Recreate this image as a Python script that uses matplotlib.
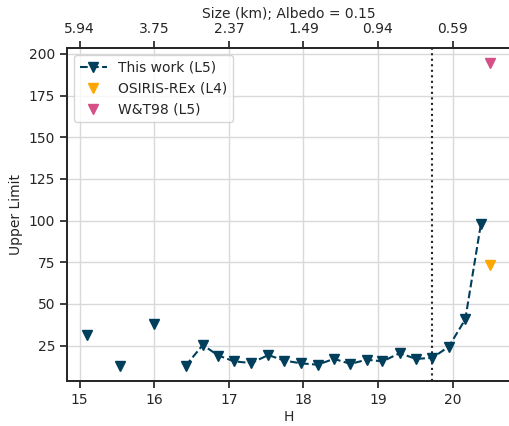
import numpy as np
import matplotlib.pyplot as plt

# Upper limits from this work (L5); NaN where no limit was obtained
h_mag = [15.10, 15.32, 15.54, 15.77, 15.99, 16.21, 16.42, 16.65, 16.86, 17.07,
         17.30, 17.53, 17.74, 17.97, 18.19, 18.41, 18.63, 18.85, 19.06, 19.29,
         19.51, 19.73, 19.95, 20.17, 20.38]
upper_limit = [31.5, np.nan, 12.8, np.nan, 38.0, np.nan, 12.8, 25.3, 19.0, 15.5,
               14.5, 19.3, 16.0, 14.3, 13.5, 17.0, 14.0, 16.5, 15.5, 20.4,
               17.0, 17.6, 24.4, 40.7, 98.0]

# Reference values
osiris_h = [20.50]
osiris_limit = [73.5]
wt98_h = [20.50]
wt98_limit = [194.5]

h_cut = 19.73

# Top axis: diameter labels at integer H
size_ticks = [15, 16, 17, 18, 19, 20]
size_labels = ["5.94", "3.75", "2.37", "1.49", "0.94", "0.59"]

plt.rcParams['font.size'] = 10
plt.rcParams['text.color'] = '#262626'
plt.rcParams['axes.labelcolor'] = '#262626'
plt.rcParams['xtick.color'] = '#262626'
plt.rcParams['ytick.color'] = '#262626'

fig = plt.figure(figsize=(5.09, 4.26), dpi=100)
ax = fig.add_axes([67 / 509, 1 - 381 / 426, 443 / 509, 333 / 426])

ax.plot(h_mag, upper_limit, 'v--', color='#003f5c', markersize=6.5,
        linewidth=1.5, label='This work (L5)', zorder=3)
ax.plot(osiris_h, osiris_limit, 'v', color='#ffa600', markersize=6.5,
        label='OSIRIS-REx (L4)', zorder=3)
ax.plot(wt98_h, wt98_limit, 'v', color='#d45087', markersize=6.5,
        label='W&T98 (L5)', zorder=3)
ax.axvline(h_cut, color='#222222', linestyle=':', linewidth=1.5)

ax.set_xlabel('H', labelpad=2)
ax.set_ylabel('Upper Limit')
ax.set_yticks([25, 50, 75, 100, 125, 150, 175, 200])
ax.grid(True, color='#d9d9d9', linewidth=1.0)
ax.set_axisbelow(True)
for side in ['left', 'bottom', 'top']:
    ax.spines[side].set_linewidth(1.25)
    ax.spines[side].set_color('#262626')
ax.spines['right'].set_visible(False)
ax.tick_params(length=5, width=1.25)

leg = ax.legend(loc='upper left', fancybox=True, framealpha=0.8,
                edgecolor='#cccccc', borderpad=0.4, handlelength=2.0)

ax2 = ax.twiny()
ax2.set_xlim(ax.get_xlim())
ax2.set_xticks(size_ticks)
ax2.set_xticklabels(size_labels)
ax2.set_xlabel('Size (km); Albedo = 0.15', labelpad=3)
ax2.tick_params(length=5, width=1.25)
for side in ['left', 'bottom', 'top']:
    ax2.spines[side].set_linewidth(1.25)
    ax2.spines[side].set_color('#262626')
ax2.spines['right'].set_visible(False)

fig.savefig('out.png', dpi=100)
